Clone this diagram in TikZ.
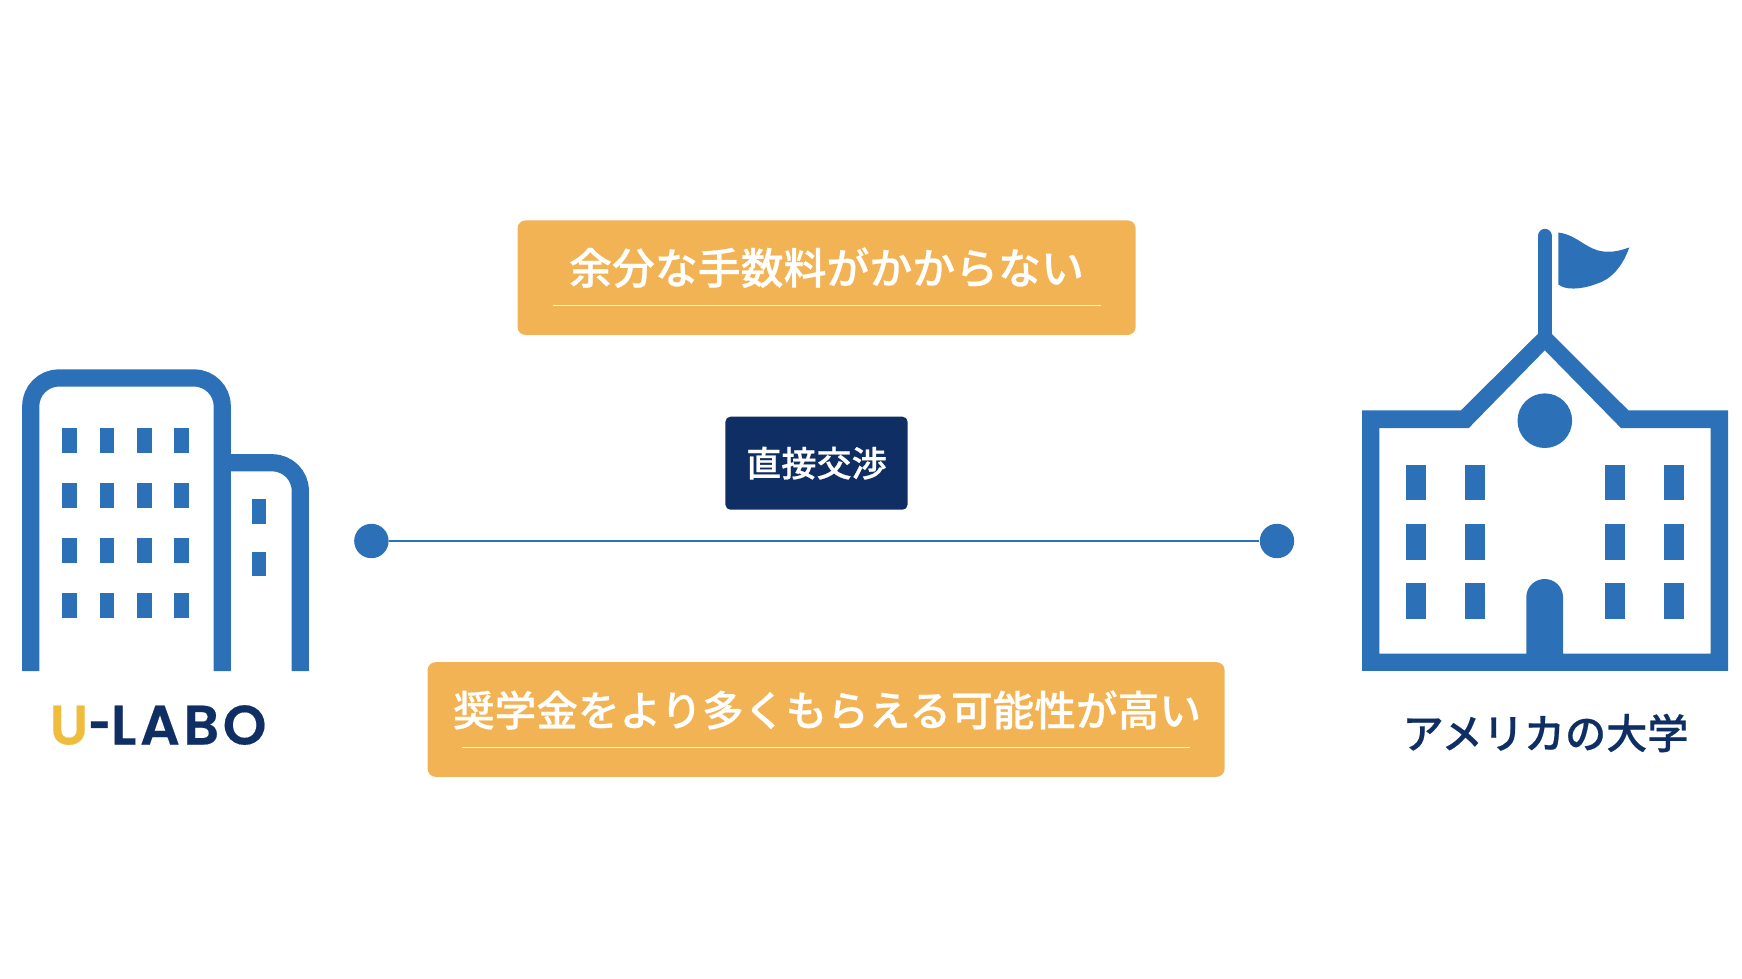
\documentclass[tikz,border=0pt]{standalone}
\usepackage{fontspec}
\newfontfamily\jpfont[FakeBold=0.5]{Noto Sans CJK JP Medium}
\newfontfamily\logofont[LetterSpace=6.5,FakeBold=0.3]{Poppins SemiBold}
\definecolor{bldgblue}{HTML}{2C70B7}
\definecolor{navy}{HTML}{0F2E63}
\definecolor{meritorange}{HTML}{F2B354}
\definecolor{logoyellow}{HTML}{F0BC3E}
\tikzset{
  bldgline/.style={draw=bldgblue,line width=0.172cm,rounded corners=0.28cm},
  meritbox/.style={fill=meritorange,rounded corners=0.08cm,inner sep=0pt,minimum height=1.145cm},
  merittext/.style={text=white,font=\jpfont\fontsize{12.2}{14}\selectfont,inner sep=0pt},
  meritrule/.style={draw=white!85!meritorange,line width=0.012cm},
  dealbox/.style={fill=navy,rounded corners=0.05cm,inner sep=0pt,minimum width=1.82cm,minimum height=0.93cm,text=white,font=\jpfont\fontsize{10}{12}\selectfont},
  dotnode/.style={circle,fill=bldgblue,inner sep=0pt,minimum size=0.344cm},
}
\begin{document}
\begin{tikzpicture}[x=0.01cm,y=-0.01cm]
\useasboundingbox (0,0) rectangle (1742,979);
% office
\draw[bldgline] (30.8,671) -- (30.8,378) -- (222.2,378) -- (222.2,671);
\draw[bldgline] (222.2,462.8) -- (300.3,462.8) -- (300.3,671);
\foreach \x in {62.3,99.7,137,174.3} \foreach \y in {428.3,483.3,538.3,593.3}
  \fill[bldgblue] (\x,\y) rectangle (\x+14.7,\y+24.5);
\foreach \y in {499,551.7} \fill[bldgblue] (251.7,\y) rectangle (266.4,\y+24.5);
\node[anchor=base,inner sep=0pt,text=navy,font=\logofont\fontsize{15.8}{18}\selectfont] (ulabo) at (158,744.5) {\textcolor{logoyellow}{U}\scalebox{0.7}[1]{-}LABO};
% school
\fill[bldgblue,even odd rule] (1362,670.9) -- (1362,410.3) -- (1461,410.3) -- (1544.8,327) -- (1628.3,410.3) -- (1728,410.3) -- (1728,670.9) -- cycle
  (1379.3,653.5) -- (1710.7,653.5) -- (1710.7,428.1) -- (1621,428.1) -- (1544.8,350.3) -- (1468.7,428.1) -- (1379.3,428.1) -- cycle;
\draw[bldgblue,line width=0.143cm,line cap=round] (1544.8,336) -- (1544.8,236);
\fill[bldgblue] (1558.3,232.5) .. controls (1585,236) and (1590,262) .. (1629.3,247.4)
  .. controls (1622,268) and (1610,280) .. (1596,284) .. controls (1580,290) and (1565,290) .. (1558.3,284.5) -- cycle;
\fill[bldgblue] (1544.8,420.7) circle (0.273cm);
\foreach \x in {1406,1465,1605,1664} \foreach \y in {464.8,524,583.3}
  \fill[bldgblue] (\x,\y) rectangle (\x+19.7,\y+35.6);
\fill[bldgblue] (1526.3,660) -- (1526.3,597) arc (180:0:18.35 and -18) -- (1563,660) -- cycle;
\node[inner sep=0pt,text=navy,font=\jpfont\fontsize{11.7}{14}\selectfont] (univ) at (1545.5,733) {アメリカの大学};
% merits
\node[meritbox,minimum width=6.177cm] (merita) at (826.6,277.7) {};
\node[merittext] (meritatext) at (826.5,267.7) {余分な手数料がかからない};
\draw[meritrule] (552.6,305.3) -- (1101,305.3);
\node[meritbox,minimum width=7.966cm] (meritb) at (826.1,719.5) {};
\node[merittext,font=\jpfont\fontsize{11.85}{14}\selectfont] (meritbtext) at (827,710) {奨学金をより多くもらえる可能性が高い};
\draw[meritrule] (461.8,747.3) -- (1190,747.3);
% deal
\node[dealbox] (deal) at (816.5,463.2) {\raisebox{-0.25pt}{直接交渉}};
\node[dotnode] (left) at (371.4,541) {};
\node[dotnode] (right) at (1277,541) {};
\draw[bldgblue,line width=0.017cm] (left) -- (right);
\end{tikzpicture}
\end{document}
